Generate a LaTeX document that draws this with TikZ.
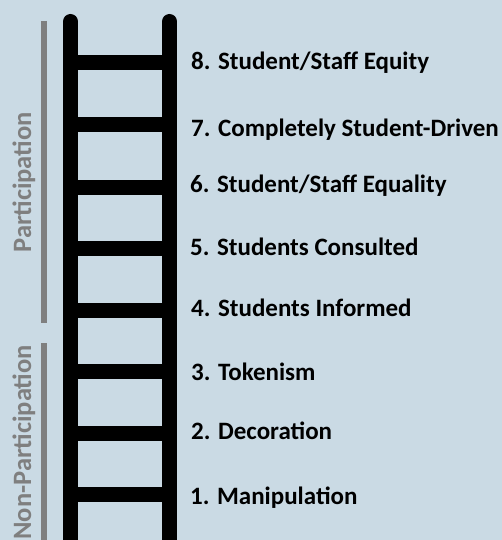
\documentclass[tikz,border=0pt]{standalone}
\usepackage{fontspec}
\setmainfont{Carlito}
\definecolor{bgblue}{RGB}{202,218,228}
\definecolor{sidegray}{RGB}{127,127,127}
\begin{document}
\begin{tikzpicture}[x=1pt,y=-1pt]
            \tikzstyle{rail}=[line width=15pt, line cap=round]
            \tikzstyle{rung}=[line width=15pt]
            \tikzstyle{bracket}=[line width=6pt, draw=sidegray]
            \tikzstyle{level}=[anchor=base west, inner sep=0pt, font=\bfseries\fontsize{25}{30}\selectfont]
            \tikzstyle{side}=[rotate=90, anchor=base east, inner sep=0pt, text=sidegray, font=\bfseries\fontsize{26.5}{30}\selectfont]

            \fill [bgblue] (0,0) rectangle (502,540);
            \clip (0,0) rectangle (502,540);

            % the two rails
            \draw [rail] (70.5,560) -- (70.5,21.5);
            \draw [rail] (169.5,560) -- (169.5,21.5);

            % rungs, top to bottom
            \draw [rung] (70.5,62.5) -- (169.5,62.5);
            \draw [rung] (70.5,125) -- (169.5,125);
            \draw [rung] (70.5,187) -- (169.5,187);
            \draw [rung] (70.5,248) -- (169.5,248);
            \draw [rung] (70.5,310) -- (169.5,310);
            \draw [rung] (70.5,371) -- (169.5,371);
            \draw [rung] (70.5,433) -- (169.5,433);
            \draw [rung] (70.5,494) -- (169.5,494);

            % the eight levels
            \node [level] (l8) at (191,70) {8. Student/Staff Equity};
            \node [level] (l7) at (191,137) {7. Completely Student-Driven};
            \node [level] (l6) at (190,192) {6. Student/Staff Equality};
            \node [level] (l5) at (190,255) {5. Students Consulted};
            \node [level] (l4) at (191,316) {4. Students Informed};
            \node [level] (l3) at (191,380) {3. Tokenism};
            \node [level] (l2) at (191,439) {2. Decoration};
            \node [level] (l1) at (190,504) {1. Manipulation};

            % groups on the left
            \draw [bracket] (44,21) -- (44,323);
            \draw [bracket] (44,343) -- (44,560);
            \node [side] (part) at (31,112) {Participation};
            \node [side] (nonpart) at (31,345) {Non-Participation};
\end{tikzpicture}
\end{document}
